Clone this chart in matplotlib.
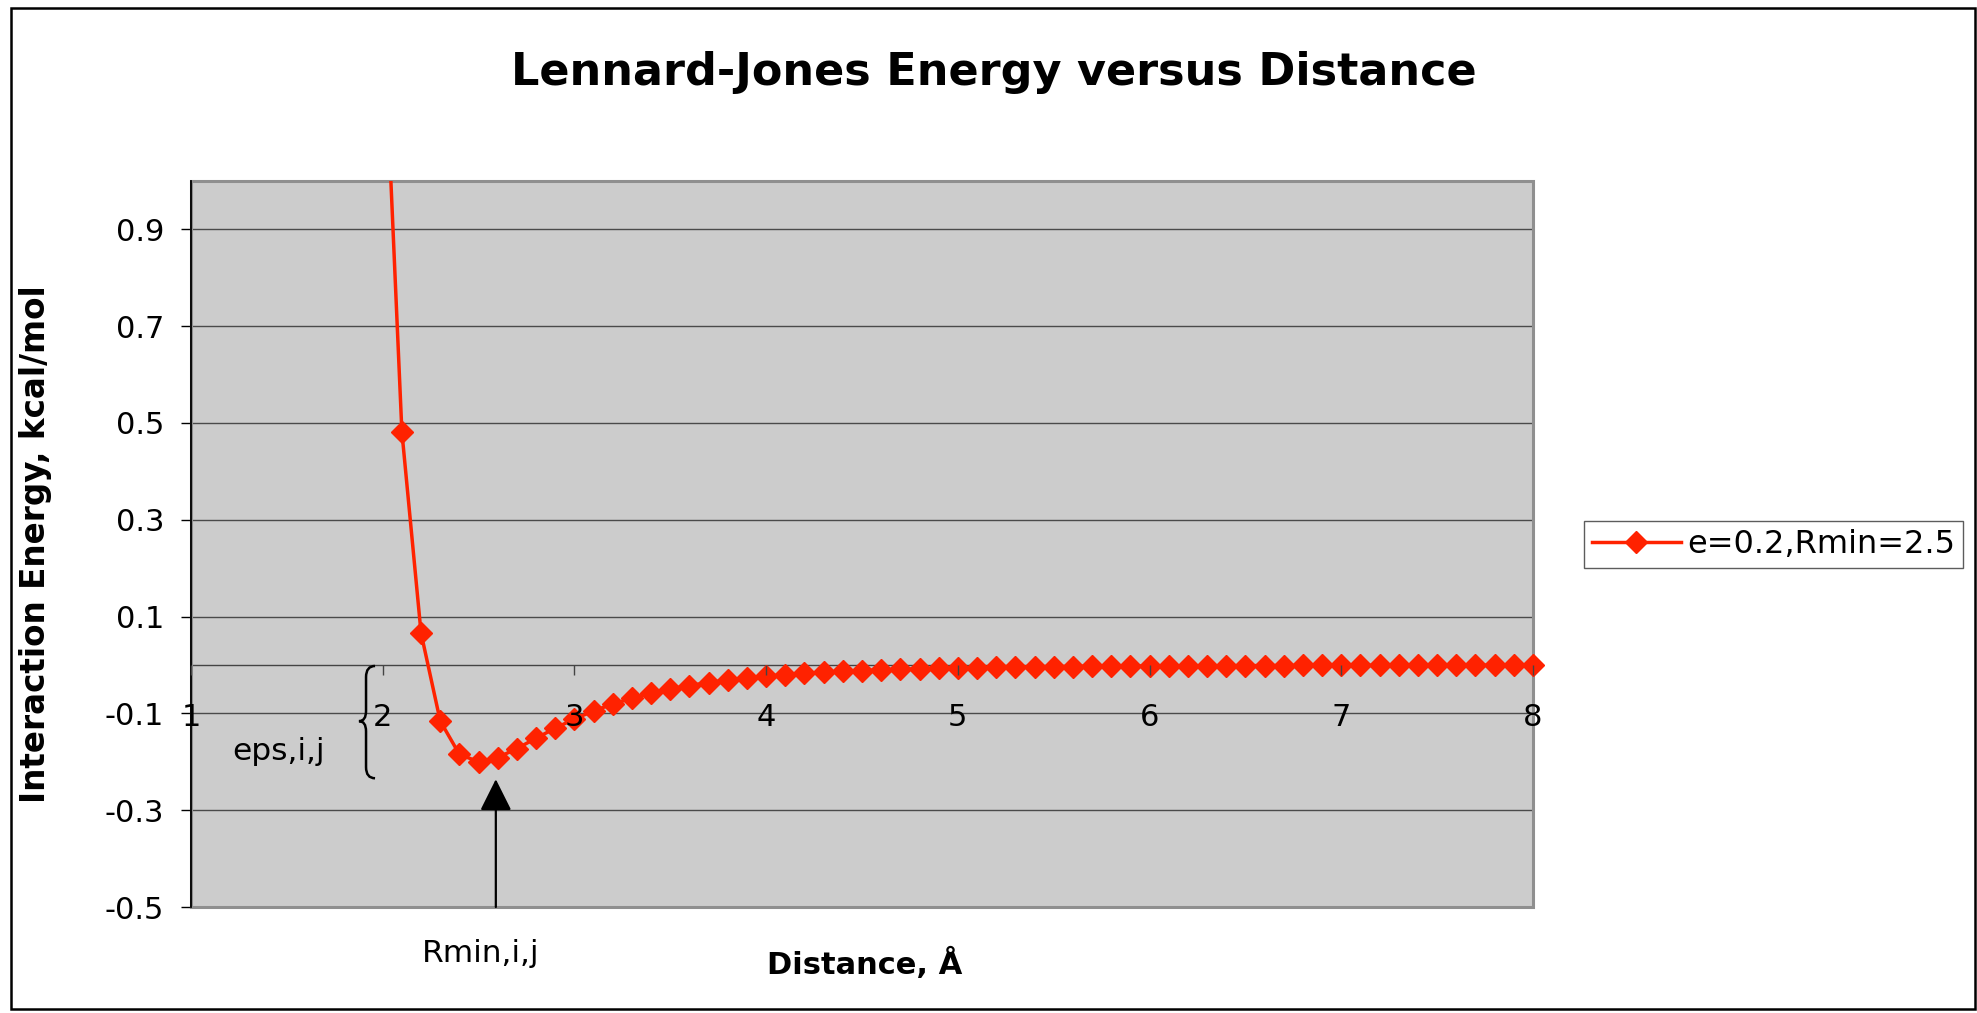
import numpy as np
from matplotlib import pyplot as plt
from matplotlib.lines import Line2D
from matplotlib.patches import Rectangle, PathPatch
from matplotlib.path import Path

# distance (Angstrom) and Lennard-Jones energy (kcal/mol)
distance = [2.0, 2.1, 2.2, 2.3, 2.4, 2.5, 2.6, 2.7, 2.8, 2.9,
            3.0, 3.1, 3.2, 3.3, 3.4, 3.5, 3.6, 3.7, 3.8, 3.9,
            4.0, 4.1, 4.2, 4.3, 4.4, 4.5, 4.6, 4.7, 4.8, 4.9,
            5.0, 5.1, 5.2, 5.3, 5.4, 5.5, 5.6, 5.7, 5.8, 5.9,
            6.0, 6.1, 6.2, 6.3, 6.4, 6.5, 6.6, 6.7, 6.8, 6.9,
            7.0, 7.1, 7.2, 7.3, 7.4, 7.5, 7.6, 7.7, 7.8, 7.9,
            8.0]
energy = [1.3845, 0.4820, 0.0660, -0.1157, -0.1846, -0.2000, -0.1912, -0.1726, -0.1513, -0.1305,
          -0.1115, -0.0949, -0.0806, -0.0685, -0.0582, -0.0496, -0.0424, -0.0363, -0.0311, -0.0268,
          -0.0231, -0.0200, -0.0174, -0.0152, -0.0132, -0.0116, -0.0102, -0.0090, -0.0079, -0.0070,
          -0.0062, -0.0055, -0.0049, -0.0044, -0.0039, -0.0035, -0.0032, -0.0028, -0.0026, -0.0023,
          -0.0021, -0.0019, -0.0017, -0.0016, -0.0014, -0.0013, -0.0012, -0.0011, -0.0010, -0.0009,
          -0.0008, -0.0008, -0.0007, -0.0006, -0.0006, -0.0005, -0.0005, -0.0005, -0.0004, -0.0004,
          -0.0004]
series_label = 'e=0.2,Rmin=2.5'

x_ticks = [1, 2, 3, 4, 5, 6, 7, 8]
y_ticks = [-0.5, -0.3, -0.1, 0.1, 0.3, 0.5, 0.7, 0.9]
y_tick_labels = ['-0.5', '-0.3', '-0.1', '0.1', '0.3', '0.5', '0.7', '0.9']

# annotation positions (data units)
rmin_arrow_x = 2.59
rmin_arrow_tip = -0.236

if __name__ == '__main__':
    plt.rcParams['font.family'] = 'DejaVu Sans'
    plt.rcParams['axes.unicode_minus'] = False

    red = '#FF2200'
    W, H = 1977, 1013
    fig = plt.figure(figsize=(W / 100, H / 100), dpi=100)
    ax = fig.add_axes([191 / W, 106 / H, 1342 / W, 726 / H])
    ax.set_facecolor('#CCCCCC')
    ax.set_axisbelow(True)

    x = np.array(distance)
    y = np.array(energy)

    ax.plot(x, y, color=red, lw=2.5, zorder=3)
    vis = y <= 1.0
    ax.plot(x[vis], y[vis], ls='none', marker='D', ms=10.8, mfc=red, mec=red, mew=1,
            clip_on=False, zorder=4)

    ax.set_xlim(1, 8)
    ax.set_ylim(-0.5, 1.0)
    ax.set_xticks(x_ticks)
    ax.set_xticklabels([str(t) for t in x_ticks])
    ax.set_yticks(y_ticks)
    ax.set_yticklabels(y_tick_labels)
    ax.yaxis.grid(True, color='#4A4A4A', lw=1.0)
    # category labels sit on top of the markers, as in the original
    ax.xaxis.set_zorder(5)

    ax.spines['bottom'].set_position(('data', 0))
    ax.spines['bottom'].set_color('#444444')
    ax.spines['bottom'].set_linewidth(1.0)
    ax.spines['bottom'].set_zorder(1)
    ax.spines['left'].set_color('black')
    ax.spines['left'].set_linewidth(1.3)
    ax.spines['top'].set_visible(False)
    ax.spines['right'].set_visible(False)
    ax.tick_params(axis='x', direction='out', length=7.2, width=1, color='#444444',
                   pad=20, labelsize=22)
    ax.tick_params(axis='y', direction='out', length=7.2, width=1, color='black',
                   pad=12, labelsize=22)

    # plot area border
    ax.add_patch(Rectangle((0, 0), 1, 1, transform=ax.transAxes, fill=False,
                           ec='#8F8F8F', lw=2.2, clip_on=False, zorder=2.5))

    # Rmin arrow
    ax.annotate('', xy=(rmin_arrow_x, rmin_arrow_tip), xytext=(rmin_arrow_x, -0.5),
                arrowprops=dict(arrowstyle='-|>', color='black', lw=1.6,
                                mutation_scale=49, shrinkA=0, shrinkB=0))

    # curly brace for the well depth
    verts = [(1.960, -0.002), (1.913, -0.002), (1.913, -0.025),
             (1.913, -0.095),
             (1.913, -0.116), (1.876, -0.116),
             (1.913, -0.116), (1.913, -0.137),
             (1.913, -0.211),
             (1.913, -0.234), (1.960, -0.234)]
    codes = [Path.MOVETO, Path.CURVE3, Path.CURVE3,
             Path.LINETO,
             Path.CURVE3, Path.CURVE3,
             Path.CURVE3, Path.CURVE3,
             Path.LINETO,
             Path.CURVE3, Path.CURVE3]
    ax.add_patch(PathPatch(Path(verts, codes), fill=False, ec='black', lw=1.8, zorder=3))

    fig.text(278 / W, 1 - 760 / H, 'eps,i,j', fontsize=22.5, ha='center', va='baseline')
    fig.text(481 / W, 1 - 962 / H, 'Rmin,i,j', fontsize=22.5, ha='center', va='baseline')

    fig.text(994 / W, 1 - 85 / H, 'Lennard-Jones Energy versus Distance',
             fontsize=32, fontweight='bold', ha='center', va='baseline')
    fig.text(865 / W, 1 - 974 / H, 'Distance, Å', fontsize=22, fontweight='bold',
             ha='center', va='baseline')
    fig.text(36 / W, 1 - 544 / H, 'Interaction Energy, kcal/mol', fontsize=23.5,
             fontweight='bold', rotation=90, ha='center', va='center')

    handle = Line2D([], [], color=red, lw=2.5, marker='D', ms=10.8, mfc=red, mec=red, mew=1)
    leg = fig.legend([handle], [series_label], loc='center',
                     bbox_to_anchor=(1773.5 / W, 1 - 544.5 / H), fontsize=23,
                     frameon=True, fancybox=False, handlelength=2.8, handletextpad=0.2,
                     borderpad=0.25, borderaxespad=0, numpoints=1)
    leg.get_frame().set_edgecolor('#333333')
    leg.get_frame().set_linewidth(1.0)

    # outer chart border
    fig.add_artist(Rectangle((11 / W, 4 / H), 1964 / W, 1001 / H, transform=fig.transFigure,
                             fill=False, ec='black', lw=1.8))

    plt.savefig('out.png', dpi=100)
